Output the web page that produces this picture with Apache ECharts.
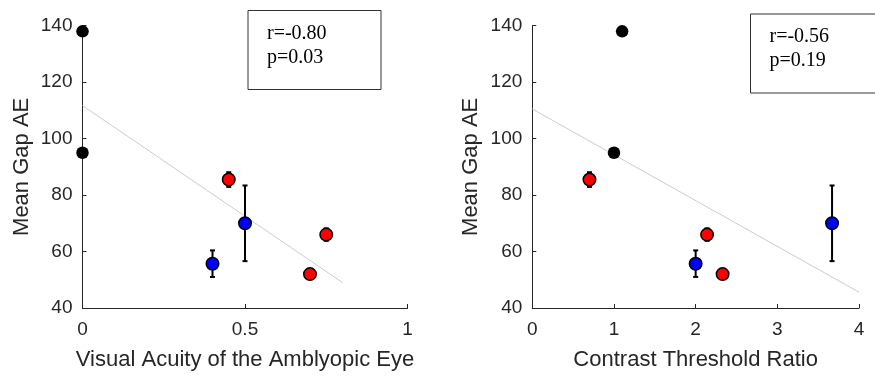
<!DOCTYPE html>
<html>
<head>
<meta charset="utf-8">
<script src="https://cdn.jsdelivr.net/npm/echarts@6/dist/echarts.min.js"></script>
<style>
  html, body { margin: 0; padding: 0; background: #fff; }
  #chart { width: 875px; height: 376px; }
</style>
</head>
<body>
<div id="chart"></div>
<script>
// Per-subject measurements
const acuity = [0, 0, 0.45, 0.5, 0.4, 0.75, 0.7];
const contrastRatio = [1.1, 1.0, 0.7, 3.67, 2.0, 2.14, 2.33];
const gapAE = [138, 95, 85.5, 70, 55.7, 66, 52];
const gapErr = [0, 0, 2.6, 13.4, 4.7, 2.2, 1.0];
const groupColor = ['#000000', '#000000', '#ff0000', '#0000ff', '#0000ff', '#ff0000', '#ff0000'];

// Regression lines (x, y endpoints)
const fitAcuity = [[0, 111.7], [0.8, 49.0]];
const fitContrast = [[0, 110.5], [4, 45.6]];

// Correlation stats
const statsAcuity = ['r=-0.80', 'p=0.03'];
const statsContrast = ['r=-0.56', 'p=0.19'];

const yTicks = [40, 60, 80, 100, 120, 140];
const axisColor = '#262626';
const sans = 'Liberation Sans, Arial, Helvetica, sans-serif';

function makeX(gridIndex, max, interval, name) {
  return {
    gridIndex, type: 'value', min: 0, max, interval,
    name, nameLocation: 'middle', nameGap: 41,
    nameTextStyle: { fontFamily: sans, fontSize: 22, color: axisColor },
    axisLine: { onZero: false, lineStyle: { color: axisColor, width: 1 } },
    axisTick: { inside: true, length: 4, lineStyle: { color: axisColor } },
    axisLabel: { fontFamily: sans, fontSize: 19, color: axisColor, margin: 12 },
    splitLine: { show: false }
  };
}
function makeY(gridIndex) {
  return {
    gridIndex, type: 'value', min: yTicks[0], max: yTicks[yTicks.length - 1], interval: 20,
    name: 'Mean Gap AE', nameLocation: 'middle', nameGap: 50,
    nameTextStyle: { fontFamily: sans, fontSize: 22, color: axisColor },
    axisLine: { onZero: false, lineStyle: { color: axisColor, width: 1 } },
    axisTick: { inside: true, length: 4, lineStyle: { color: axisColor } },
    axisLabel: { fontFamily: sans, fontSize: 19, color: axisColor, margin: 10 },
    splitLine: { show: false }
  };
}

function pointsFor(xs) {
  return xs.map((x, i) => ({
    value: [x, gapAE[i]],
    itemStyle: {
      color: groupColor[i],
      opacity: 1,
      borderColor: '#000',
      borderWidth: groupColor[i] === '#000000' ? 0 : 1.5
    }
  }));
}
function errFor(xs) {
  return xs.map((x, i) => [x, gapAE[i] - gapErr[i], gapAE[i] + gapErr[i]]).filter((d, i) => gapErr[i] > 0);
}
function errSeries(idx, xs) {
  return {
    type: 'custom', xAxisIndex: idx, yAxisIndex: idx, clip: false, z: 3,
    data: errFor(xs),
    renderItem(params, api) {
      const lo = api.coord([api.value(0), api.value(1)]);
      const hi = api.coord([api.value(0), api.value(2)]);
      const cw = 2.5;
      const style = { stroke: '#000', lineWidth: 2 };
      return {
        type: 'group',
        children: [
          { type: 'line', shape: { x1: lo[0], y1: lo[1], x2: hi[0], y2: hi[1] }, style },
          { type: 'line', shape: { x1: lo[0] - cw, y1: lo[1], x2: lo[0] + cw, y2: lo[1] }, style },
          { type: 'line', shape: { x1: hi[0] - cw, y1: hi[1], x2: hi[0] + cw, y2: hi[1] }, style }
        ]
      };
    }
  };
}
function fitSeries(idx, pts) {
  return {
    type: 'line', xAxisIndex: idx, yAxisIndex: idx, data: pts, symbol: 'none', z: 1,
    lineStyle: { color: '#cccccc', width: 1 }, silent: true
  };
}
function scatterSeries(idx, xs) {
  return {
    type: 'scatter', xAxisIndex: idx, yAxisIndex: idx, symbolSize: 12.5, clip: false, z: 5,
    itemStyle: { opacity: 1 },
    data: pointsFor(xs)
  };
}
function statsBox(x, y, w, h, lines) {
  return {
    type: 'group', left: x, top: y,
    children: [
      { type: 'rect', shape: { x: 0, y: 0, width: w, height: h },
        style: { fill: '#fff', stroke: '#333', lineWidth: 1 } },
      { type: 'text', x: 19, y: 11,
        style: { text: lines.join('\n'), font: '20px "Liberation Serif", "Times New Roman", serif',
                 fill: '#000', lineHeight: 24 } }
    ]
  };
}

const chart = echarts.init(document.getElementById('chart'), null, { renderer: 'canvas' });
chart.setOption({
  animation: false,
  backgroundColor: '#fff',
  grid: [
    { left: 82.5, top: 25.7, width: 325, height: 286 },
    { left: 532.3, top: 25.7, width: 326.7, height: 286 }
  ],
  xAxis: [
    makeX(0, 1, 0.5, 'Visual Acuity of the Amblyopic Eye'),
    makeX(1, 4, 1, 'Contrast Threshold Ratio')
  ],
  yAxis: [makeY(0), makeY(1)],
  graphic: [
    statsBox(247.5, 10, 133, 79, statsAcuity),
    statsBox(750, 13.5, 140, 79, statsContrast)
  ],
  series: [
    fitSeries(0, fitAcuity),
    errSeries(0, acuity),
    scatterSeries(0, acuity),
    fitSeries(1, fitContrast),
    errSeries(1, contrastRatio),
    scatterSeries(1, contrastRatio)
  ]
});
</script>
</body>
</html>
